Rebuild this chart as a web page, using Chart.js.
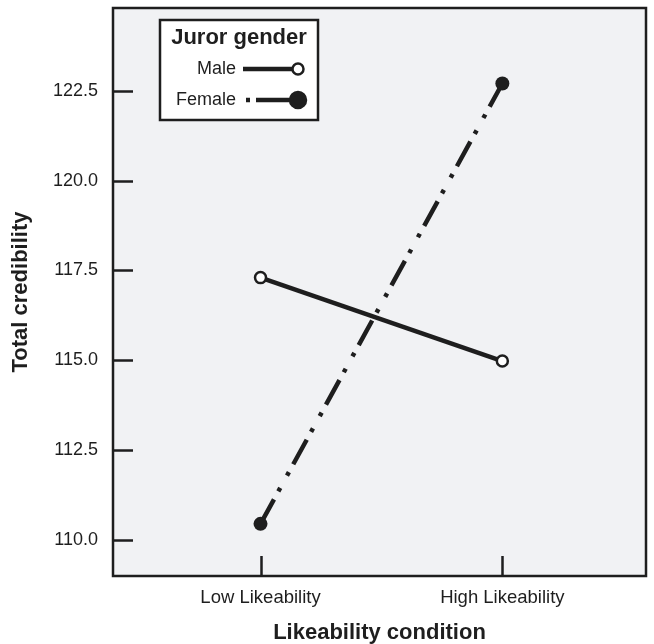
<!DOCTYPE html>
<html>
<head>
<meta charset="utf-8">
<script src="https://cdn.jsdelivr.net/npm/chart.js@4.4.1/dist/chart.umd.min.js"></script>
<style>
  html, body { margin: 0; padding: 0; background: #ffffff; }
  #wrap { width: 654px; height: 644px; }
</style>
</head>
<body>
<div id="wrap"><canvas id="c" width="654" height="644"></canvas></div>
<script>
const categories = ['Low Likeability', 'High Likeability'];
const maleValues = [117.3, 114.98];
const femaleValues = [110.45, 122.7];
const yTicks = [110.0, 112.5, 115.0, 117.5, 120.0, 122.5];
const seriesNames = ['Male', 'Female'];
const legendTitle = 'Juror gender';

const FONT = '"Liberation Sans", Arial, Helvetica, sans-serif';
const INK = '#1e1e1e';
const FEMALE_DASH = [28, 9, 4, 14, 4, 9];

const toPoints = vals => vals.map((v, i) => ({ x: i, y: v }));

const framePlugin = {
  id: 'frame',
  beforeDraw(chart) {
    const { ctx, chartArea: a } = chart;
    ctx.save();
    ctx.fillStyle = '#f1f2f4';
    ctx.fillRect(a.left, a.top, a.right - a.left, a.bottom - a.top);
    ctx.restore();
  },
  beforeDatasetsDraw(chart) {
    const { ctx, chartArea: a, scales } = chart;
    ctx.save();
    ctx.strokeStyle = INK;
    ctx.lineWidth = 2.5;
    ctx.beginPath();
    yTicks.forEach(t => {
      const y = Math.round(scales.y.getPixelForValue(t)) + 0.5;
      ctx.moveTo(a.left, y);
      ctx.lineTo(a.left + 20, y);
    });
    categories.forEach((c, i) => {
      const x = Math.round(scales.x.getPixelForValue(i)) + 0.5;
      ctx.moveTo(x, a.bottom);
      ctx.lineTo(x, a.bottom - 20);
    });
    ctx.stroke();
    ctx.lineWidth = 2.5;
    ctx.strokeRect(a.left, a.top, a.right - a.left, a.bottom - a.top);
    ctx.restore();
  },
  afterDraw(chart) {
    const { ctx } = chart;
    const bx = 160, by = 20, bw = 158, bh = 100;
    ctx.save();
    ctx.fillStyle = '#ffffff';
    ctx.fillRect(bx, by, bw, bh);
    ctx.strokeStyle = INK;
    ctx.lineWidth = 2.5;
    ctx.strokeRect(bx, by, bw, bh);
    ctx.fillStyle = INK;
    ctx.textBaseline = 'middle';
    ctx.textAlign = 'center';
    ctx.font = 'bold 22px ' + FONT;
    ctx.fillText(legendTitle, bx + bw / 2, 38);
    ctx.font = '18px ' + FONT;
    ctx.textAlign = 'right';
    const rows = [69, 100];
    const ds = chart.data.datasets;
    rows.forEach((ry, i) => {
      ctx.fillStyle = INK;
      ctx.fillText(seriesNames[i], 236, ry);
      ctx.beginPath();
      ctx.strokeStyle = INK;
      ctx.lineWidth = 4.5;
      if (i === 1) {
        ctx.setLineDash([4, 6, 36, 20]);
      } else {
        ctx.setLineDash([]);
      }
      ctx.moveTo(i === 1 ? 246 : 243, ry);
      ctx.lineTo(i === 1 ? 292 : 295, ry);
      ctx.stroke();
      ctx.setLineDash([]);
      ctx.beginPath();
      ctx.arc(298, ry, ds[i].pointRadius, 0, Math.PI * 2);
      ctx.fillStyle = ds[i].pointBackgroundColor;
      ctx.fill();
      ctx.lineWidth = ds[i].pointBorderWidth;
      ctx.strokeStyle = INK;
      ctx.stroke();
    });
    ctx.restore();
  }
};

new Chart(document.getElementById('c'), {
  type: 'line',
  data: {
    datasets: [
      {
        label: seriesNames[0],
        data: toPoints(maleValues),
        borderColor: INK,
        borderWidth: 4.5,
        pointRadius: 5.5,
        pointBackgroundColor: '#ffffff',
        pointBorderColor: INK,
        pointBorderWidth: 2.5,
        order: 2
      },
      {
        label: seriesNames[1],
        data: toPoints(femaleValues),
        borderColor: INK,
        borderWidth: 4.5,
        borderDash: FEMALE_DASH,
        borderCapStyle: 'butt',
        pointRadius: 7,
        pointBackgroundColor: INK,
        pointBorderColor: INK,
        pointBorderWidth: 0,
        order: 1
      }
    ]
  },
  options: {
    responsive: false,
    animation: false,
    devicePixelRatio: 1,
    layout: { padding: { top: 6, right: 3, left: 0, bottom: 0 } },
    plugins: { legend: { display: false }, tooltip: { enabled: false } },
    scales: {
      x: {
        type: 'linear',
        min: -0.61,
        max: 1.594,
        afterBuildTicks: s => { s.ticks = categories.map((c, i) => ({ value: i })); },
        afterFit: s => { s.height = 68; s.paddingLeft = 0; s.paddingRight = 0; },
        grid: { display: false, drawTicks: false },
        border: { display: false },
        ticks: {
          callback: v => categories[v],
          color: INK,
          font: { family: FONT, size: 18.5 },
          padding: 11,
          maxRotation: 0,
          autoSkip: false
        },
        title: {
          display: true,
          text: 'Likeability condition',
          color: INK,
          font: { family: FONT, size: 22, weight: 'bold', lineHeight: 1 },
          padding: { top: 0, bottom: 0 }
        }
      },
      y: {
        min: 109.0,
        max: 124.8,
        afterBuildTicks: s => { s.ticks = yTicks.map(v => ({ value: v })); },
        afterFit: s => { s.width = 113; s.paddingTop = 0; s.paddingBottom = 0; },
        grid: { display: false, drawTicks: false },
        border: { display: false },
        ticks: {
          callback: v => Number(v).toFixed(1),
          color: INK,
          font: { family: FONT, size: 18 },
          padding: 15
        },
        title: {
          display: true,
          text: 'Total credibility',
          color: INK,
          font: { family: FONT, size: 22, weight: 'bold', lineHeight: 1 },
          padding: { top: 10, bottom: 0 }
        }
      }
    }
  },
  plugins: [framePlugin]
});
</script>
</body>
</html>
